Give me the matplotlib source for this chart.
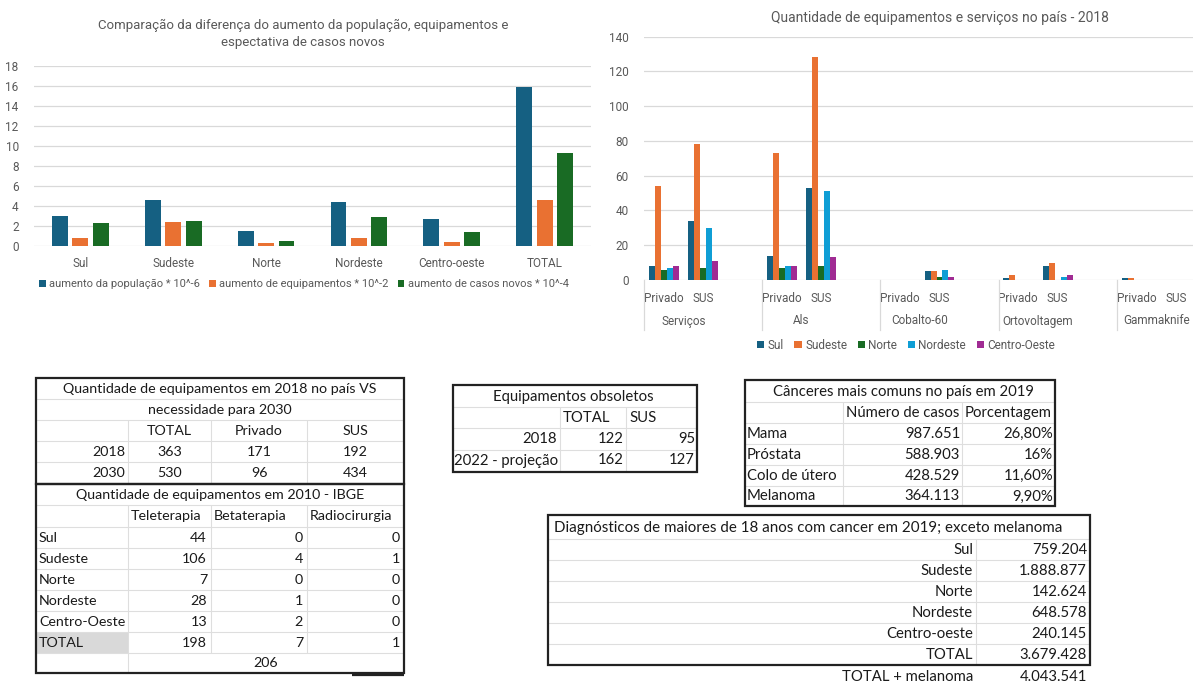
import matplotlib
matplotlib.use('Agg')
import matplotlib.pyplot as plt
import matplotlib.transforms as mtransforms
from matplotlib.patches import Rectangle
import numpy as np

# --- aumento por região (gráfico da esquerda) ---
regioes = ['Sul', 'Sudeste', 'Norte', 'Nordeste', 'Centro-oeste', 'TOTAL']
aumento_populacao = [3.0, 4.55, 1.5, 4.38, 2.7, 15.9]
aumento_equipamentos = [0.83, 2.4, 0.3, 0.77, 0.4, 4.55]
aumento_casos = [2.33, 2.5, 0.47, 2.9, 1.4, 9.35]

# --- equipamentos e serviços 2018 (gráfico da direita) ---
grupos = ['Serviços', 'Als', 'Cobalto-60', 'Ortovoltagem', 'Gammaknife']
subgrupos = ['Privado', 'SUS']
regioes_eq = ['Sul', 'Sudeste', 'Norte', 'Nordeste', 'Centro-Oeste']
eq_sul = [8, 34, 14, 53, 0, 5, 1, 8, 1, 0]
eq_sudeste = [54, 78, 73, 128, 0, 5, 3, 10, 1, 0]
eq_norte = [6, 7, 7, 8, 0, 2, 0, 0, 0, 0]
eq_nordeste = [7, 30, 8, 51, 0, 6, 0, 2, 0, 0]
eq_centro_oeste = [8, 11, 8, 13, 0, 2, 0, 3, 0, 0]

# --- tabelas ---
t1_cols = ['TOTAL', 'Privado', 'SUS']
t1_anos = ['2018', '2030']
t1_vals = [[363, 171, 192], [530, 96, 434]]

t2_cols = ['Teleterapia', 'Betaterapia', 'Radiocirurgia']
t2_regioes = ['Sul', 'Sudeste', 'Norte', 'Nordeste', 'Centro-Oeste', 'TOTAL']
teleterapia = [44, 106, 7, 28, 13, 198]
betaterapia = [0, 4, 0, 1, 2, 7]
radiocirurgia = [0, 1, 0, 0, 0, 1]
t2_total = 206

obs_anos = ['2018', '2022 - projeção']
obs_total = [122, 162]
obs_sus = [95, 127]

canceres = ['Mama', 'Próstata', 'Colo de útero', 'Melanoma']
casos = [987651, 588903, 428529, 364113]
porcentagem = ['26,80%', '16%', '11,60%', '9,90%']

diag_regioes = ['Sul', 'Sudeste', 'Norte', 'Nordeste', 'Centro-oeste', 'TOTAL']
diagnosticos = [759204, 1888877, 142624, 648578, 240145, 3679428]
total_melanoma = 4043541

C_BLUE, C_ORANGE, C_GREEN = '#156082', '#E97132', '#196B24'
C_LBLUE, C_PURPLE = '#0F9ED5', '#A02B93'
GRAY_TXT = '#595959'
GRID = '#d9d9d9'
TXT = '#1a1a1a'
CHART_FONT = 'Roboto'
TABLE_FONT = 'Lato'

W, H = 1193, 683
fig = plt.figure(figsize=(W / 100, H / 100), dpi=100)
fig.patch.set_facecolor('white')

# overlay in pixel coordinates for the spreadsheet tables
ov = fig.add_axes([0, 0, 1, 1])
ov.set_xlim(0, W)
ov.set_ylim(H, 0)
ov.axis('off')


def px_axes(left, top, right, bottom):
    return fig.add_axes([left / W, 1 - bottom / H, (right - left) / W, (bottom - top) / H])


def fmt_br(v):
    return f'{v:,}'.replace(',', '.')


def style_chart(ax):
    for s in ax.spines.values():
        s.set_visible(False)
    ax.set_axisbelow(True)
    ax.yaxis.grid(True, color=GRID, lw=0.9)
    ax.tick_params(length=0, colors=GRAY_TXT, labelsize=8.5)
    for lbl in ax.get_xticklabels() + ax.get_yticklabels():
        lbl.set_fontfamily(CHART_FONT)


# ---------- left chart ----------
ax1 = px_axes(34, 66, 591, 246)
x = np.arange(len(regioes))
bw = 0.172
ax1.bar(x - 0.22, aumento_populacao, bw, color=C_BLUE, label='aumento da população * 10^-6')
ax1.bar(x, aumento_equipamentos, bw, color=C_ORANGE, label='aumento de equipamentos * 10^-2')
ax1.bar(x + 0.22, aumento_casos, bw, color=C_GREEN, label='aumento de casos novos * 10^-4')
ax1.set_xlim(-0.5, len(regioes) - 0.5)
ax1.set_ylim(0, 18)
ax1.set_yticks(range(0, 19, 2))
ax1.set_xticks(x)
ax1.set_xticklabels(regioes)
style_chart(ax1)
ax1.tick_params(axis='y', pad=11)
ax1.tick_params(axis='x', pad=8)
fig.text(303 / W, 1 - 34 / H,
         'Comparação da diferença do aumento da população, equipamentos e\nespectativa de casos novos',
         ha='center', va='center', fontsize=9.5, color=GRAY_TXT, family=CHART_FONT, linespacing=1.35)
fig.legend(*ax1.get_legend_handles_labels(), loc='center', bbox_to_anchor=(304 / W, 1 - 284 / H),
           ncol=3, frameon=False, handlelength=0.6, handleheight=0.6,
           handletextpad=0.3, columnspacing=0.8, labelcolor=GRAY_TXT, prop={'family': CHART_FONT, 'size': 8})

# ---------- right chart ----------
ax2 = px_axes(644, 36.5, 1235, 280)
n_slots = 3 * len(grupos)
cat_pos = np.array([3 * g + s for g in range(len(grupos)) for s in range(len(subgrupos))])
series = [eq_sul, eq_sudeste, eq_norte, eq_nordeste, eq_centro_oeste]
colors = [C_BLUE, C_ORANGE, C_GREEN, C_LBLUE, C_PURPLE]
bw2 = 0.152
for i, (vals, col, name) in enumerate(zip(series, colors, regioes_eq)):
    ax2.bar(cat_pos + (i - 2) * bw2, vals, bw2, color=col, label=name)
ax2.set_xlim(-0.5, n_slots - 0.5)
ax2.set_ylim(0, 140)
ax2.set_yticks(range(0, 141, 20))
ax2.set_xticks(cat_pos)
ax2.set_xticklabels(subgrupos * len(grupos))
style_chart(ax2)
ax2.tick_params(axis='y', pad=11)
ax2.tick_params(axis='x', pad=9)
blend = mtransforms.blended_transform_factory(ax2.transData, ax2.transAxes)
ax_h = 280 - 36.5
for g in range(len(grupos) + 1):
    xb = 3 * g - 0.5
    ax2.plot([xb, xb], [0, -50 / ax_h], transform=blend, color=GRID, lw=0.9, clip_on=False)
for g, name in enumerate(grupos):
    ax2.text(3 * g + 0.5, -41 / ax_h, name, transform=blend, ha='center', va='center',
             fontsize=8.5, color=GRAY_TXT, family=CHART_FONT)
fig.text(940 / W, 1 - 18 / H, 'Quantidade de equipamentos e serviços no país - 2018',
         ha='center', va='center', fontsize=10, color=GRAY_TXT, family=CHART_FONT)
fig.legend(*ax2.get_legend_handles_labels(), loc='center', bbox_to_anchor=(906 / W, 1 - 345 / H),
           ncol=5, frameon=False, handlelength=0.6, handleheight=0.6,
           handletextpad=0.3, columnspacing=0.9, labelcolor=GRAY_TXT, prop={'family': CHART_FONT, 'size': 8.5})

# ---------- tables ----------
FS = 10.7


def txt(xp, yp, s, ha='left', fs=None):
    ov.text(xp, yp, s, ha=ha, va='center', fontsize=fs or FS, color=TXT, family=TABLE_FONT)


def hline(x0, x1, y, thick=False):
    ov.plot([x0, x1], [y, y], color='#222222' if thick else '#dedede', lw=1.6 if thick else 0.8,
            solid_capstyle='butt', zorder=3 if thick else 1)


def vline(xp, y0, y1, thick=False):
    ov.plot([xp, xp], [y0, y1], color='#222222' if thick else '#dedede', lw=1.6 if thick else 0.8,
            solid_capstyle='butt', zorder=3 if thick else 1)


def box(x0, y0, x1, y1):
    ov.add_patch(Rectangle((x0, y0), x1 - x0, y1 - y0, fill=False, ec='#222222', lw=1.6, zorder=3))


# table 1: 2018 vs 2030
FS1 = 10.3
cx = [36, 128, 211, 307, 404]
ry = [378, 399, 420, 441, 462, 484]
for y in ry[2:-1]:
    hline(cx[0], cx[-1], y)
hline(cx[0], cx[-1], ry[1])
for xv in cx[1:-1]:
    vline(xv, ry[2], ry[-1])
box(cx[0], ry[0], cx[-1], ry[-1])
txt(220, 389, 'Quantidade de equipamentos em 2018 no país VS', ha='center', fs=FS1)
txt(220, 410, 'necessidade para 2030', ha='center', fs=FS1)
for j, c in enumerate(t1_cols):
    txt((cx[j + 1] + cx[j + 2]) / 2, 431, c, ha='center', fs=FS1)
for i, ano in enumerate(t1_anos):
    yy = 452 + 21 * i
    txt(cx[1] - 3, yy, ano, ha='right', fs=FS1)
    for j, v in enumerate(t1_vals[i]):
        txt((cx[j + 1] + cx[j + 2]) / 2, yy, str(v), ha='center', fs=FS1)

# table 2: IBGE 2010
ry2 = [484, 505, 527, 548, 569, 590, 611, 632, 653, 673]
ov.add_patch(Rectangle((cx[0], ry2[7]), cx[1] - cx[0], ry2[8] - ry2[7], color='#d9d9d9', lw=0, zorder=0))
for y in ry2[1:-1]:
    hline(cx[0], cx[-1], y)
for xv in cx[1:-1]:
    vline(xv, ry2[1], ry2[8])
vline(cx[1], ry2[8], ry2[9])
box(cx[0], ry2[0], cx[-1], ry2[-1])
hline(352, 404, 675, thick=True)
txt(220, 495, 'Quantidade de equipamentos em 2010 - IBGE', ha='center', fs=FS1)
for j, c in enumerate(t2_cols):
    txt(cx[j + 1] + 3, 516, c, fs=FS1)
for i, reg in enumerate(t2_regioes):
    yy = 538 + 21 * i
    txt(cx[0] + 3, yy, reg, fs=FS1)
    for j, v in enumerate([teleterapia[i], betaterapia[i], radiocirurgia[i]]):
        txt(cx[j + 2] - 4, yy, str(v), ha='right', fs=FS1)
txt((cx[1] + cx[-1]) / 2, 663, str(t2_total), ha='center', fs=FS1)

# table 3: equipamentos obsoletos
cx3 = [453, 560, 626, 697]
ry3 = [385, 407, 428, 450, 472]
for y in ry3[1:-1]:
    hline(cx3[0], cx3[-1], y)
for xv in cx3[1:-1]:
    vline(xv, ry3[1], ry3[-1])
box(cx3[0], ry3[0], cx3[-1], ry3[-1])
txt(573, 397, 'Equipamentos obsoletos', ha='center')
txt(cx3[1] + 3, 418, 'TOTAL')
txt(cx3[2] + 3, 418, 'SUS')
for i, ano in enumerate(obs_anos):
    yy = 439 + 21.5 * i
    txt(cx3[1] - 3 if i == 0 else cx3[0] + 1, yy, ano, ha='right' if i == 0 else 'left')
    txt(cx3[2] - 2, yy, str(obs_total[i]), ha='right')
    txt(cx3[3] - 2, yy, str(obs_sus[i]), ha='right')

# table 4: cânceres mais comuns
cx4 = [745, 843, 962, 1055]
ry4 = [380, 402, 423, 444, 465, 486, 506]
for y in ry4[1:-1]:
    hline(cx4[0], cx4[-1], y)
for xv in cx4[1:-1]:
    vline(xv, ry4[1], ry4[-1])
box(cx4[0], ry4[0], cx4[-1], ry4[-1])
txt(903, 392, 'Cânceres mais comuns no país em 2019', ha='center')
txt(cx4[1] + 3, 413, 'Número de casos')
txt(cx4[2] + 3, 413, 'Porcentagem')
for i, nome in enumerate(canceres):
    yy = 434 + 20.8 * i
    txt(cx4[0] + 2, yy, nome)
    txt(cx4[2] - 2, yy, fmt_br(casos[i]), ha='right')
    txt(cx4[3] - 2, yy, porcentagem[i], ha='right')

# table 5: diagnósticos 2019
cx5 = [548, 976, 1090]
ry5 = [515, 539, 560, 581, 602, 623, 644, 665]
for y in ry5[1:-1]:
    hline(cx5[0], cx5[-1], y)
vline(cx5[1], ry5[1], ry5[-1])
box(cx5[0], ry5[0], cx5[-1], ry5[-1])
txt(808, 528, 'Diagnósticos de maiores de 18 anos com cancer em 2019; exceto melanoma', ha='center', fs=10.9)
for i, reg in enumerate(diag_regioes):
    yy = 550 + 21 * i
    txt(cx5[1] - 3, yy, reg, ha='right')
    txt(cx5[2] - 3, yy, fmt_br(diagnosticos[i]), ha='right')
txt(cx5[1] - 3, 677, 'TOTAL + melanoma', ha='right')
txt(cx5[2] - 3, 677, fmt_br(total_melanoma), ha='right')

fig.savefig('out.png', dpi=100, facecolor='white')
